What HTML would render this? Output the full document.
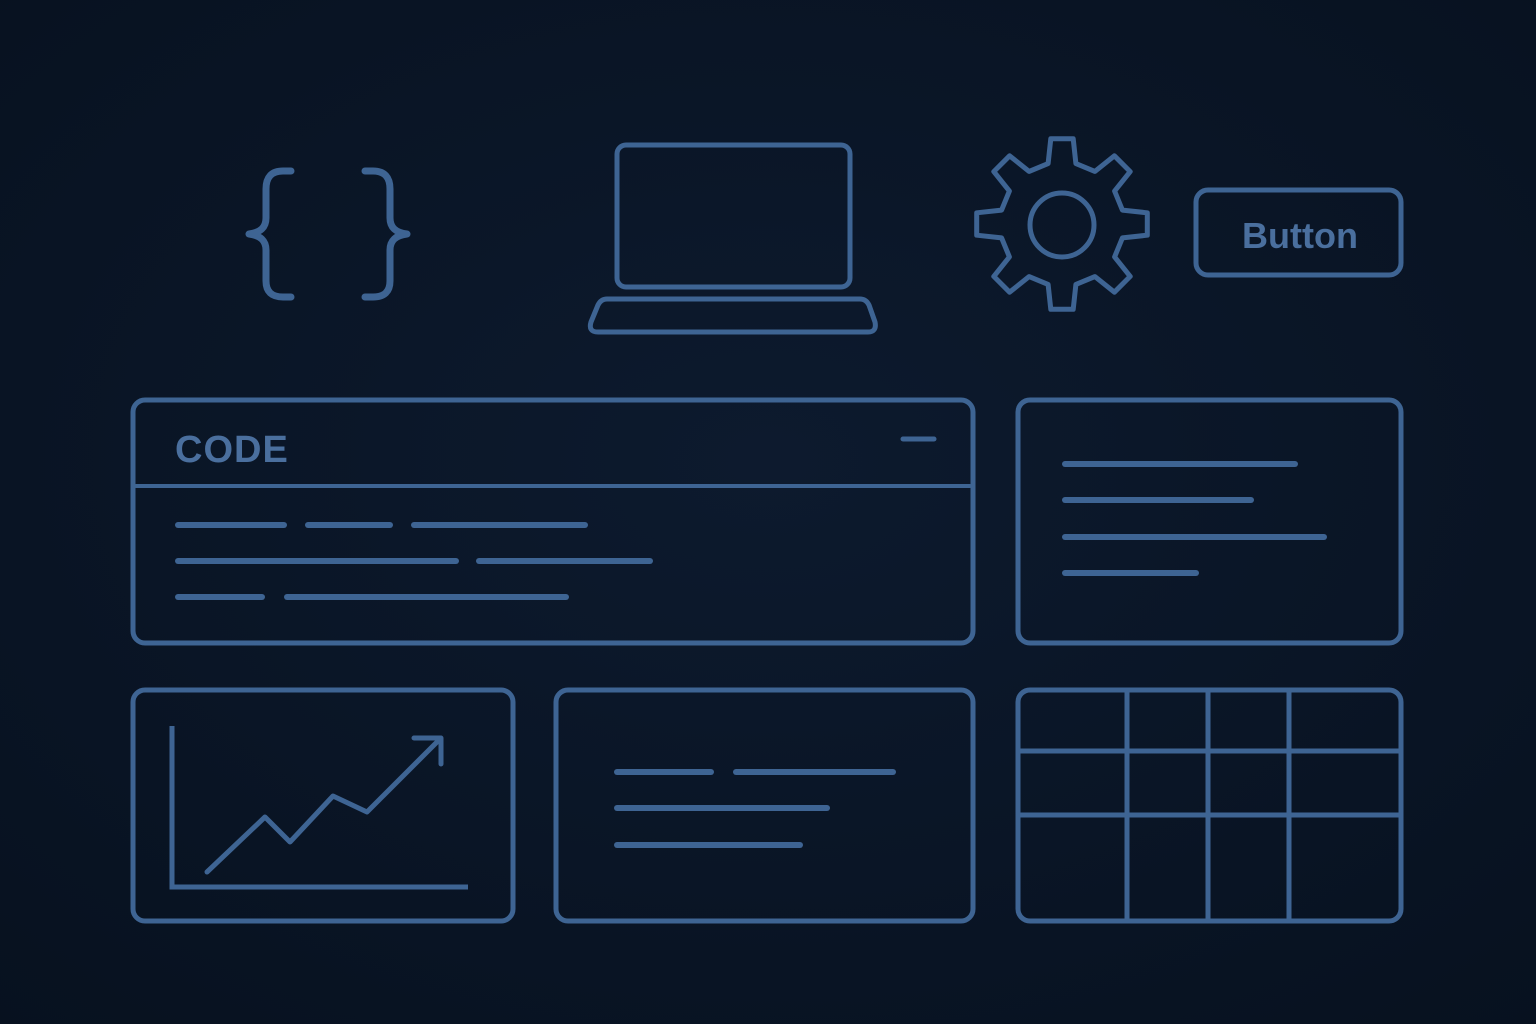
<!DOCTYPE html>
<html><head><style>
html,body{margin:0;padding:0;width:1536px;height:1024px;overflow:hidden;background:#0a1526}
svg{display:block}
</style></head><body>
<svg width="1536" height="1024" viewBox="0 0 1536 1024" xmlns="http://www.w3.org/2000/svg">
<defs>
<radialGradient id="bg" cx="50%" cy="45%" r="75%">
<stop offset="0" stop-color="#0d1a2e"/><stop offset="1" stop-color="#07111f"/>
</radialGradient>
</defs>
<rect width="1536" height="1024" fill="url(#bg)"/>
<g fill="none" stroke="#3e6493" stroke-width="5" stroke-linecap="round" stroke-linejoin="round">
<!-- braces -->
<g stroke-width="7">
<path d="M291,171 H283 Q266,171 266,189 V218 Q266,232 249,234 Q266,236 266,250 V281 Q266,297 283,297 H291"/>
<path d="M365,171 H373 Q390,171 390,189 V218 Q390,232 407,234 Q390,236 390,250 V281 Q390,297 373,297 H365"/>
</g>
<!-- laptop -->
<rect x="617" y="145" width="233" height="142" rx="9"/>
<path d="M607,299 H860 Q866,299 869,305 L875,322 Q877,332 868,332 H598 Q588,332 591,322 L598,305 Q601,299 607,299 Z"/>
<!-- gear -->
<path id="gear" d=""/>
<circle cx="1062" cy="225" r="32"/>
<!-- button -->
<rect x="1196" y="190" width="205" height="85" rx="12"/>
<!-- code panel -->
<rect x="133" y="400" width="840" height="243" rx="12"/>
<line x1="136" y1="486" x2="970" y2="486" stroke-width="4"/>
<line x1="903" y1="439" x2="934" y2="439"/>
<g stroke-width="6">
<line x1="178" y1="525" x2="284" y2="525"/><line x1="308" y1="525" x2="390" y2="525"/><line x1="414" y1="525" x2="585" y2="525"/>
<line x1="178" y1="561" x2="456" y2="561"/><line x1="479" y1="561" x2="650" y2="561"/>
<line x1="178" y1="597" x2="262" y2="597"/><line x1="287" y1="597" x2="566" y2="597"/>
</g>
<!-- right text panel -->
<rect x="1018" y="400" width="383" height="243" rx="12"/>
<g stroke-width="6">
<line x1="1065" y1="464" x2="1295" y2="464"/><line x1="1065" y1="500" x2="1251" y2="500"/>
<line x1="1065" y1="537" x2="1324" y2="537"/><line x1="1065" y1="573" x2="1196" y2="573"/>
</g>
<!-- chart panel -->
<rect x="133" y="690" width="380" height="231" rx="12"/>
<path d="M172,726 V887 H468" stroke-linecap="butt" stroke-linejoin="miter"/>
<path d="M207,872 L265,817 L290,842 L333,796 L367,812 L440,739"/>
<path d="M414,738 H441 V764"/>
<!-- middle panel -->
<rect x="556" y="690" width="417" height="231" rx="12"/>
<g stroke-width="6">
<line x1="617" y1="772" x2="711" y2="772"/><line x1="736" y1="772" x2="893" y2="772"/>
<line x1="617" y1="808" x2="827" y2="808"/><line x1="617" y1="845" x2="800" y2="845"/>
</g>
<!-- table -->
<rect x="1018" y="690" width="383" height="231" rx="12"/>
<g stroke-linecap="butt">
<line x1="1127" y1="692" x2="1127" y2="919"/><line x1="1208" y1="692" x2="1208" y2="919"/><line x1="1289" y1="692" x2="1289" y2="919"/>
<line x1="1020" y1="751" x2="1399" y2="751"/><line x1="1020" y1="815" x2="1399" y2="815"/>
</g>
</g>
<text x="175" y="462" fill="#4a6f9e" font-family="Liberation Sans, sans-serif" font-weight="bold" font-size="38" letter-spacing="1">CODE</text>
<text x="1300" y="248" fill="#4a6f9e" font-family="Liberation Sans, sans-serif" font-weight="600" font-size="36" text-anchor="middle">Button</text>
</svg>
<script>
(function(){
var cx=1062,cy=224,pts=[];
for(var i=0;i<8;i++){
var t=(-90+i*45)*Math.PI/180,d=Math.PI/180;
var a=[[t-13*d,62],[t-7.5*d,86],[t+7.5*d,86],[t+13*d,62]];
a.forEach(function(p){pts.push((cx+p[1]*Math.cos(p[0])).toFixed(1)+","+(cy+p[1]*Math.sin(p[0])).toFixed(1));});
}
document.getElementById("gear").setAttribute("d","M"+pts.join(" L")+" Z");
})();
</script>
</body></html>
